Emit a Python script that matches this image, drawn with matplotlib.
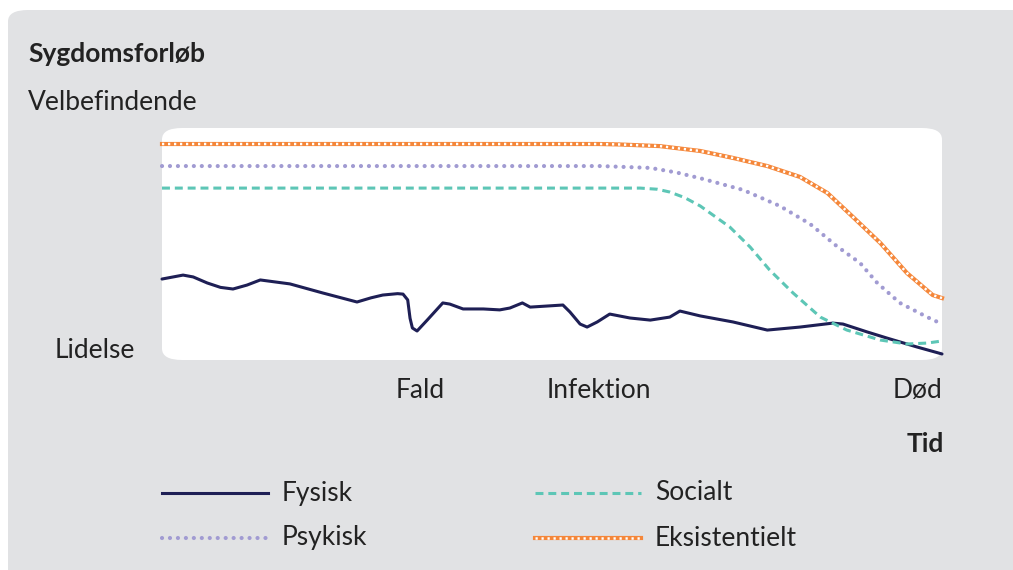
import numpy as np
import matplotlib
matplotlib.use("Agg")
import matplotlib.pyplot as plt
from matplotlib.patches import FancyBboxPatch
from matplotlib.lines import Line2D

plt.rcParams['font.family'] = ['Lato', 'DejaVu Sans']

# Tid (0 = start, 100 = død) / velbefindende (0 = lidelse, 100 = top)
fysisk_x = [0, 2.7, 4.0, 5.8, 7.5, 9.1, 10.9, 12.6, 16.4, 20.6, 25.0, 26.8, 28.3, 30.2, 30.9, 31.5, 31.8,
            32.1, 32.7, 34.0, 36.0, 36.9, 38.6, 41.2, 43.3, 44.6, 46.2, 47.2, 51.4, 52.3, 53.6, 54.5,
            55.8, 57.4, 60.0, 62.6, 65.1, 66.4, 69.0, 73.2, 77.6, 81.8, 86.0, 87.3, 90.4, 92.9,
            96.8, 100]
fysisk_y = [34.9, 36.6, 35.8, 33.2, 31.3, 30.6, 32.3, 34.5, 32.8, 28.9, 25.0, 26.8, 28.0, 28.6, 28.4, 25.9,
            18.0, 13.8, 12.5, 17.2, 24.6, 24.1, 22.0, 22.0, 21.6, 22.4, 24.6, 22.8, 23.7, 20.7, 15.5,
            14.2, 16.4, 19.8, 18.1, 17.2, 18.5, 21.1, 19.0, 16.4, 12.9, 14.2, 15.9, 15.5, 12.1, 9.5,
            5.6, 2.6]

psykisk_x = [0, 56.2, 62.6, 66.0, 69.4, 74.5, 79.2, 83.1, 86.5, 89.5, 91.7, 94.6, 98.1, 100]
psykisk_y = [83.6, 83.6, 82.8, 80.8, 78.0, 73.3, 66.4, 58.6, 49.1, 41.8, 33.2, 24.6, 18.5, 15.5]

socialt_x = [0, 61.3, 63.5, 65.1, 67.0, 69.0, 72.8, 75.4, 77.9, 80.9, 84.4, 87.8, 92.1, 95.5, 98.1, 100]
socialt_y = [74.1, 74.1, 73.6, 72.4, 70.0, 66.4, 57.3, 48.7, 38.8, 28.9, 18.5, 12.9, 8.6, 6.9, 7.3, 8.2]

eksist_x = [0, 56.0, 58.7, 63.8, 69.0, 73.2, 77.6, 81.8, 85.3, 88.6, 92.1, 95.5, 98.8, 100]
eksist_y = [93.1, 93.1, 92.9, 92.2, 90.1, 87.1, 83.6, 78.9, 72.0, 61.6, 50.4, 37.5, 28.0, 26.7]

events = ['Fald', 'Infektion', 'Død']
event_x = [33.1, 56.0, 100]

navy = '#1e1f55'
purple = '#a19bd2'
teal = '#5dc6b6'
orange = '#f5873a'
grey = '#e1e2e4'
text_c = '#222222'
fs = 19

fig = plt.figure(figsize=(10.13, 5.70), dpi=100)
W, H = 1013, 570

def fx(px):
    return px / W

def fy(py):
    return 1 - py / H

# grey panel + white plot area
fig.patches.append(FancyBboxPatch((fx(8), fy(600)), fx(1040), fy(10) - fy(600),
                                  boxstyle='round,pad=0,rounding_size=0.02',
                                  transform=fig.transFigure, fc=grey, ec='none', zorder=0))
fig.patches.append(FancyBboxPatch((fx(162), fy(360)), fx(942) - fx(162), fy(128) - fy(360),
                                  boxstyle='round,pad=0,rounding_size=0.02',
                                  transform=fig.transFigure, fc='white', ec='none', zorder=1))

ax = fig.add_axes([fx(162), fy(360), fx(942) - fx(162), fy(128) - fy(360)], zorder=3)
ax.set_xlim(0, 100)
ax.set_ylim(0, 100)
ax.axis('off')
ax.patch.set_alpha(0)

chain = dict(color='white', lw=1.8, linestyle=(0, (0.9, 1.5)))

ax.plot(fysisk_x, fysisk_y, color=navy, lw=2.2, solid_capstyle='round', solid_joinstyle='round',
        clip_on=False)
ax.plot(psykisk_x, psykisk_y, color=purple, lw=3.0, linestyle=(0, (0.01, 1.9)),
        dash_capstyle='round', clip_on=False)
ax.plot(socialt_x, socialt_y, color=teal, lw=2.2, linestyle=(0, (2.6, 1.6)), clip_on=False)
ax.plot(eksist_x, eksist_y, color=orange, lw=3.0, clip_on=False)
ax.plot(eksist_x, eksist_y, clip_on=False, **chain)

# texts
fig.text(fx(28), fy(54), 'Sygdomsforløb', fontsize=fs, fontweight='bold', color=text_c, va='center')
fig.text(fx(28), fy(103), 'Velbefindende', fontsize=fs, color=text_c, va='center')
fig.text(fx(135), fy(350), 'Lidelse', fontsize=fs, color=text_c, va='center', ha='right')
for lab, xv in zip(events, event_x):
    ha = 'right' if xv >= 100 else 'center'
    ax.text(xv, -13, lab, fontsize=fs, color=text_c, ha=ha, va='center', clip_on=False)
fig.text(fx(944), fy(444), 'Tid', fontsize=fs, fontweight='bold', color=text_c, va='center', ha='right')

# legend
leg = [('Fysisk', navy, dict(lw=2.2), 162, 493),
       ('Socialt', teal, dict(lw=2.2, linestyle=(0, (2.6, 1.6))), 535, 493),
       ('Psykisk', purple, dict(lw=3.0, linestyle=(0, (0.01, 1.9)), dash_capstyle='round'), 162, 538),
       ('Eksistentielt', orange, dict(lw=3.0), 535, 538)]
for name, col, kw, x0, y0 in leg:
    fig.add_artist(Line2D([fx(x0), fx(x0 + 106)], [fy(y0), fy(y0)], color=col,
                          transform=fig.transFigure, **kw))
    if name == 'Eksistentielt':
        fig.add_artist(Line2D([fx(x0), fx(x0 + 106)], [fy(y0), fy(y0)],
                              transform=fig.transFigure, **chain))
    fig.text(fx(x0 + 120), fy(y0), name, fontsize=fs, color=text_c, va='center')

fig.savefig('out.png', dpi=100, facecolor='white')
